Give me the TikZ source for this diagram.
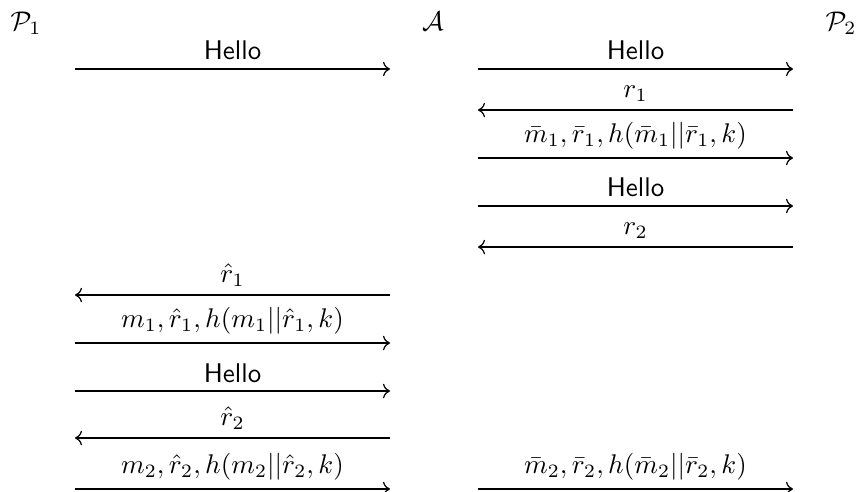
\documentclass[tikz,border=0pt]{standalone}
\usepackage{amsmath}
\usetikzlibrary{arrows.meta}
\begin{document}
\begin{tikzpicture}[x=0.3704pt,y=-0.3704pt,
  msg/.style={-{Computer Modern Rightarrow[length=2.6pt,width=5.4pt]},line width=0.45pt},
  lbl/.style={above,inner sep=3pt},
  party/.style={anchor=base,inner sep=0pt}]
\useasboundingbox (0,0) rectangle (859,491);
% parties
\node[party] (P1) at (26,30) {$\mathcal{P}_1$};
\node[party] (A)  at (433,30) {$\mathcal{A}$};
\node[party] (P2) at (841,30) {$\mathcal{P}_2$};
% endpoints
\def\xla{75}\def\xlb{390}\def\xra{478}\def\xrb{793}
\coordinate (a1) at (\xla,69);  \coordinate (b1) at (\xlb,69);
\coordinate (c1) at (\xra,69);  \coordinate (d1) at (\xrb,69);
\coordinate (c2) at (\xra,110); \coordinate (d2) at (\xrb,110);
\coordinate (c3) at (\xra,158); \coordinate (d3) at (\xrb,158);
\coordinate (c4) at (\xra,206); \coordinate (d4) at (\xrb,206);
\coordinate (c5) at (\xra,247); \coordinate (d5) at (\xrb,247);
\coordinate (a6) at (\xla,295); \coordinate (b6) at (\xlb,295);
\coordinate (a7) at (\xla,343); \coordinate (b7) at (\xlb,343);
\coordinate (a8) at (\xla,391); \coordinate (b8) at (\xlb,391);
\coordinate (a9) at (\xla,438); \coordinate (b9) at (\xlb,438);
\coordinate (a10) at (\xla,489); \coordinate (b10) at (\xlb,489);
\coordinate (c10) at (\xra,489); \coordinate (d10) at (\xrb,489);
% messages
\draw[msg] (a1) -- node[lbl] {\textsf{Hello}} (b1);
\draw[msg] (c1) -- node[lbl] {\textsf{Hello}} (d1);
\draw[msg] (d2) -- node[lbl] {$r_1$} (c2);
\draw[msg] (c3) -- node[lbl] {$\bar{m}_1, \bar{r}_1, h(\bar{m}_1||\bar{r}_1, k)$} (d3);
\draw[msg] (c4) -- node[lbl] {\textsf{Hello}} (d4);
\draw[msg] (d5) -- node[lbl] {$r_2$} (c5);
\draw[msg] (b6) -- node[lbl] {$\hat{r}_1$} (a6);
\draw[msg] (a7) -- node[lbl] {$m_1, \hat{r}_1, h(m_1||\hat{r}_1, k)$} (b7);
\draw[msg] (a8) -- node[lbl] {\textsf{Hello}} (b8);
\draw[msg] (b9) -- node[lbl] {$\hat{r}_2$} (a9);
\draw[msg] (a10) -- node[lbl] {$m_2, \hat{r}_2, h(m_2||\hat{r}_2, k)$} (b10);
\draw[msg] (c10) -- node[lbl] {$\bar{m}_2, \bar{r}_2, h(\bar{m}_2||\bar{r}_2, k)$} (d10);
\end{tikzpicture}
\end{document}
